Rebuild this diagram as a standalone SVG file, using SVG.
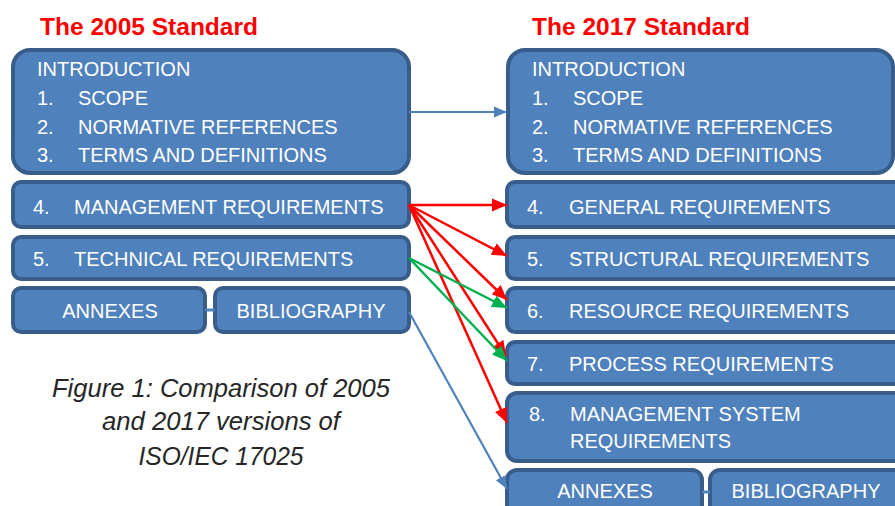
<svg xmlns="http://www.w3.org/2000/svg" width="895" height="506" viewBox="0 0 895 506">
<style>
.box{fill:#4f81bd;stroke:#385d8a;stroke-width:4}
.t{font-family:"Liberation Sans",Arial,sans-serif;font-size:20px;fill:#ffffff}
.tc{text-anchor:middle}
.title{font-family:"Liberation Sans",Arial,sans-serif;font-size:23px;font-weight:bold;fill:#ff0000}
.cap{font-family:"Liberation Sans",Arial,sans-serif;font-size:25px;font-style:italic;fill:#262626;text-anchor:middle}
.red{stroke:#ff0000;stroke-width:2.5;fill:none;marker-end:url(#mr)}
.green{stroke:#00b050;stroke-width:2.5;fill:none;marker-end:url(#mg)}
.blue{stroke:#4f81bd;stroke-width:2.2;fill:none;marker-end:url(#mb)}
.link{stroke:#4f81bd;stroke-width:3;fill:none}
</style>
<defs>
<marker id="mr" markerUnits="userSpaceOnUse" markerWidth="16" markerHeight="16" viewBox="0 0 16 16" refX="15" refY="8" orient="auto"><path d="M0,1.5 L15,8 L0,14.5 Z" fill="#ff0000"/></marker>
<marker id="mg" markerUnits="userSpaceOnUse" markerWidth="16" markerHeight="16" viewBox="0 0 16 16" refX="15" refY="8" orient="auto"><path d="M0,1.5 L15,8 L0,14.5 Z" fill="#00b050"/></marker>
<marker id="mb" markerUnits="userSpaceOnUse" markerWidth="14" markerHeight="14" viewBox="0 0 14 14" refX="13" refY="7" orient="auto"><path d="M0,1.5 L13,7 L0,12.5 Z" fill="#4f81bd"/></marker>
</defs>
<rect width="895" height="506" fill="#ffffff"/>
<text class="title" x="40" y="35" textLength="218" lengthAdjust="spacingAndGlyphs">The 2005 Standard</text>
<text class="title" x="532" y="35" textLength="218" lengthAdjust="spacingAndGlyphs">The 2017 Standard</text>

<g id="intro-2005">
<rect class="box" x="13" y="50" width="396" height="123" rx="17"/>
<text class="t" x="37" y="76">INTRODUCTION</text>
<text class="t" x="37" y="105">1.</text><text class="t" x="78" y="105">SCOPE</text>
<text class="t" x="37" y="133.5">2.</text><text class="t" x="78" y="133.5">NORMATIVE REFERENCES</text>
<text class="t" x="37" y="162">3.</text><text class="t" x="78" y="162">TERMS AND DEFINITIONS</text>
</g>
<g id="mgmt-2005">
<rect class="box" x="13" y="182" width="396" height="45" rx="8"/>
<text class="t" x="33" y="214">4.</text><text class="t" x="74" y="214">MANAGEMENT REQUIREMENTS</text>
</g>
<g id="tech-2005">
<rect class="box" x="13" y="237" width="396" height="42" rx="8"/>
<text class="t" x="33" y="266">5.</text><text class="t" x="74" y="266">TECHNICAL REQUIREMENTS</text>
</g>
<g id="annex-2005">
<rect class="box" x="13" y="288" width="192" height="44" rx="8"/>
<text class="t tc" x="110" y="318">ANNEXES</text>
</g>
<g id="bib-2005">
<rect class="box" x="215" y="288" width="194" height="44" rx="8"/>
<text class="t tc" x="311" y="318">BIBLIOGRAPHY</text>
</g>

<g id="intro-2017">
<rect class="box" x="508" y="50" width="385" height="123" rx="17"/>
<text class="t" x="532" y="76">INTRODUCTION</text>
<text class="t" x="532" y="105">1.</text><text class="t" x="573" y="105">SCOPE</text>
<text class="t" x="532" y="133.5">2.</text><text class="t" x="573" y="133.5">NORMATIVE REFERENCES</text>
<text class="t" x="532" y="162">3.</text><text class="t" x="573" y="162">TERMS AND DEFINITIONS</text>
</g>
<g id="general-2017">
<rect class="box" x="507" y="182" width="405" height="45" rx="8"/>
<text class="t" x="527" y="214">4.</text><text class="t" x="569" y="214">GENERAL REQUIREMENTS</text>
</g>
<g id="structural-2017">
<rect class="box" x="507" y="237" width="405" height="42" rx="8"/>
<text class="t" x="527" y="266">5.</text><text class="t" x="569" y="266">STRUCTURAL REQUIREMENTS</text>
</g>
<g id="resource-2017">
<rect class="box" x="507" y="288" width="405" height="44" rx="8"/>
<text class="t" x="527" y="318">6.</text><text class="t" x="569" y="318">RESOURCE REQUIREMENTS</text>
</g>
<g id="process-2017">
<rect class="box" x="507" y="342" width="405" height="42" rx="8"/>
<text class="t" x="527" y="371">7.</text><text class="t" x="569" y="371">PROCESS REQUIREMENTS</text>
</g>
<g id="mgmtsys-2017">
<rect class="box" x="507" y="393" width="405" height="68" rx="10"/>
<text class="t" x="529" y="421">8.</text><text class="t" x="570" y="421">MANAGEMENT SYSTEM</text>
<text class="t" x="570" y="448">REQUIREMENTS</text>
</g>
<g id="annex-2017">
<rect class="box" x="507" y="470" width="195" height="50" rx="10"/>
<text class="t tc" x="605" y="498">ANNEXES</text>
</g>
<g id="bib-2017">
<rect class="box" x="710" y="470" width="200" height="50" rx="10"/>
<text class="t tc" x="806" y="498">BIBLIOGRAPHY</text>
</g>

<g id="connectors">
<line class="link" x1="205" y1="310" x2="215" y2="310"/>
<line class="link" x1="702" y1="492" x2="710" y2="492"/>
<line class="blue" x1="409" y1="112" x2="507" y2="112"/>
<line class="red" x1="409" y1="205" x2="507" y2="205"/>
<line class="red" x1="409" y1="205" x2="507" y2="256"/>
<line class="red" x1="409" y1="205" x2="507" y2="300"/>
<line class="red" x1="409" y1="205" x2="506" y2="356"/>
<line class="red" x1="409" y1="205" x2="507" y2="423"/>
<line class="green" x1="409" y1="258" x2="507" y2="308"/>
<line class="green" x1="409" y1="258" x2="507" y2="361"/>
<line class="blue" x1="409" y1="312" x2="507" y2="489"/>
</g>

<g id="caption">
<text class="cap" x="221" y="397" textLength="338" lengthAdjust="spacingAndGlyphs">Figure 1: Comparison of 2005</text>
<text class="cap" x="221" y="430" textLength="238" lengthAdjust="spacingAndGlyphs">and 2017 versions of</text>
<text class="cap" x="221" y="465" textLength="165" lengthAdjust="spacingAndGlyphs">ISO/IEC 17025</text>
</g>
</svg>
